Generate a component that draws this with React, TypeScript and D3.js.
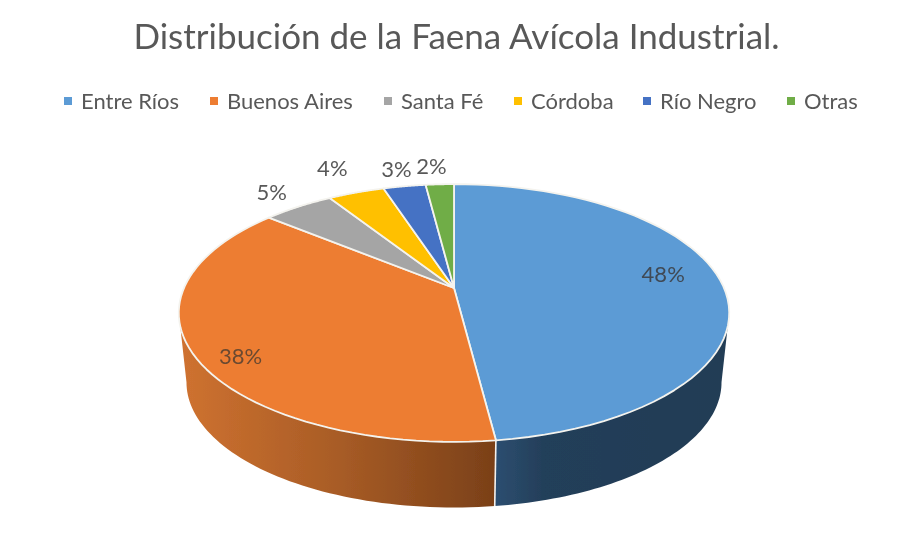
import React from "react";
import * as d3 from "d3";

const categories = ["Entre Ríos", "Buenos Aires", "Santa Fé", "Córdoba", "Río Negro", "Otras"];
const values = [48, 38, 5, 4, 3, 2];
const colors = ["#5b9bd5", "#ed7d31", "#a5a5a5", "#ffc000", "#4472c4", "#70ad47"];
const title = "Distribución de la Faena Avícola Industrial.";

// layout only
const legendX = [64, 210, 384, 514, 643, 787];
const labelFactor = [0.78, 0.85, 1.2, 1.3, 1.2, 1.2];
const labelDx = [1, 5, 0, 0, 0, -6];
const labelDy = [-7, 14, 0, 0, 0, 0];

const FONT = "Lato, 'Open Sans', sans-serif";
const cx = 454, cy = 288, R = 270, S = 124, K = 0.194;
const DEPTH = 70, SHRINK = 0.972;

const proj = (t: number, f = 1) => {
  const u = Math.sin(t) * f, v = Math.cos(t) * f, w = 1 + K * v;
  return [cx + (R * u) / w, cy - (S * v) / w] as [number, number];
};
const projLow = (t: number) => {
  const [x, y] = proj(t);
  return [cx + (x - cx) * SHRINK, cy + (y - cy) * SHRINK + DEPTH] as [number, number];
};
const sample = (a: number, b: number, fn: (t: number) => [number, number]) =>
  d3.range(0, 61).map((i) => fn(a + ((b - a) * i) / 60));

export default function App() {
  const arcs = d3.pie<number>().sort(null).startAngle(0).endAngle(2 * Math.PI)(values);
  const line = d3.line();
  const centre: [number, number] = [cx, cy];
  const sliceD = (a: number, b: number) => line([centre, ...sample(a, b, proj)]) + "Z";
  const sideD = (a: number, b: number) =>
    line([...sample(a, b, proj), ...sample(a, b, projLow).reverse()]) + "Z";
  const silR = Math.PI - Math.acos(K);
  const silL = Math.PI + Math.acos(K);
  const front = arcs[0].endAngle;
  const [jx, jy] = proj(front);
  const [lx, ly] = projLow(front);
  return (
    <svg width={899} height={535} style={{ position: "absolute", left: 0, top: 0, background: "#fff" }}>
      <defs>
        <linearGradient id="sideA" gradientUnits="userSpaceOnUse" x1={jx} y1={0} x2={728} y2={0}>
          <stop offset="0" stopColor="#2c4e70" />
          <stop offset="0.2" stopColor="#243f5a" />
          <stop offset="1" stopColor="#223c55" />
        </linearGradient>
        <linearGradient id="sideB" gradientUnits="userSpaceOnUse" x1={180} y1={0} x2={jx} y2={0}>
          <stop offset="0" stopColor="#cf7230" />
          <stop offset="0.5" stopColor="#a85c26" />
          <stop offset="1" stopColor="#7a4018" />
        </linearGradient>
        <filter id="soft" x="-5%" y="-5%" width="110%" height="110%">
          <feGaussianBlur stdDeviation="0.45" />
        </filter>
      </defs>
      <g filter="url(#soft)">
        <text x={456.5} y={49} textAnchor="middle" fontFamily={FONT} fontSize={35} fill="#595959">{title}</text>
        {categories.map((c, i) => (
          <g key={c}>
            <rect x={legendX[i]} y={97} width={8} height={8} fill={colors[i]} />
            <text x={legendX[i] + 17} y={109} fontFamily={FONT} fontSize={22} fill="#595959">{c}</text>
          </g>
        ))}
        <path d={sideD(silR, front)} fill="url(#sideA)" />
        <path d={sideD(front, silL)} fill="url(#sideB)" />
        <path d={line([[jx, jy], [lx, ly]]) as string} stroke="#f4f1ee" strokeWidth={1.6} fill="none" />
        {arcs.map((a, i) => (
          <path key={i} d={sliceD(a.startAngle, a.endAngle)} fill={colors[i]} stroke="#f4f3ee" strokeWidth={1.8} strokeLinejoin="round" />
        ))}
        {arcs.map((a, i) => {
          const [x, y] = proj((a.startAngle + a.endAngle) / 2, labelFactor[i]);
          return (
            <text key={i} x={x + labelDx[i]} y={y + labelDy[i] + 7} textAnchor="middle" fontFamily={FONT} fontSize={22}
              fill={i === 0 ? "#404a55" : i === 1 ? "#6b4a30" : "#595959"}>
              {values[i]}%
            </text>
          );
        })}
      </g>
    </svg>
  );
}
